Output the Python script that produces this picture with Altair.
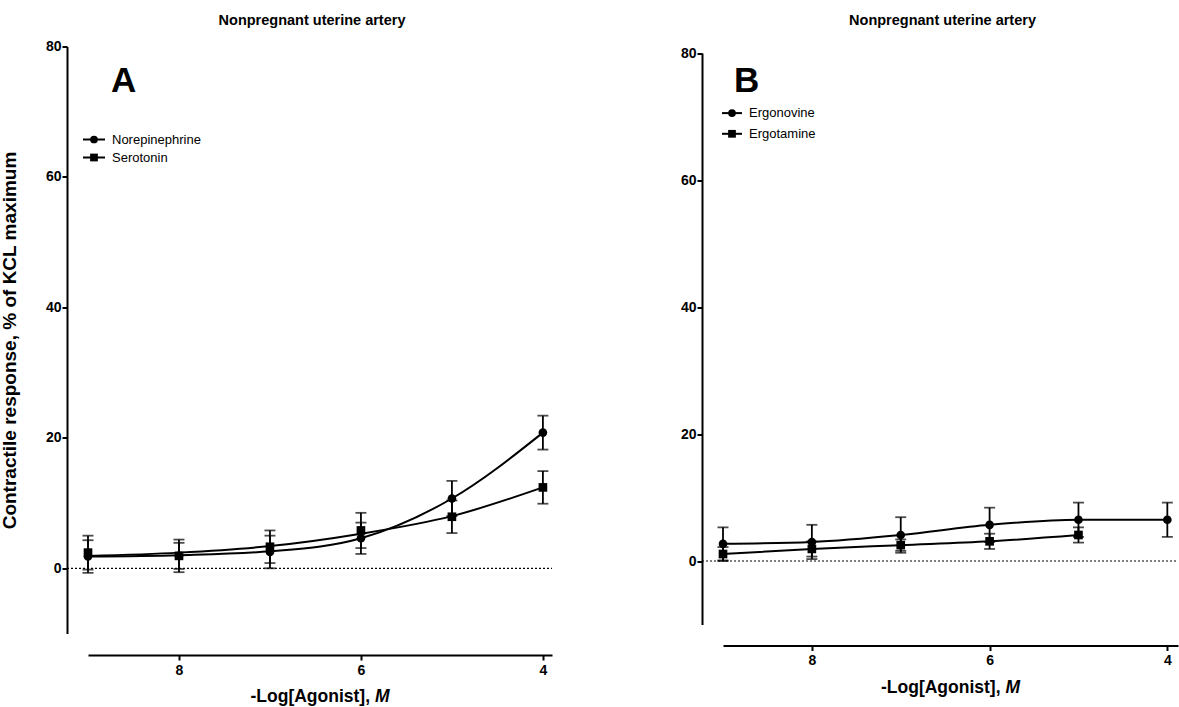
import altair as alt
import pandas as pd

FONT = "Liberation Sans"

# ---- Panel A data (-Log[Agonist], M) ----
x_a = [9, 8, 7, 6, 5, 4]
ne_mean = [1.8, 1.9, 2.5, 4.6, 10.7, 20.8]
ne_sem = [2.5, 2.5, 2.5, 2.4, 2.7, 2.6]
ne_fit = [1.8, 2.0, 2.6, 4.6, 10.7, 20.8]
ser_mean = [2.4, 1.9, 3.3, 5.8, 7.9, 12.4]
ser_sem = [2.6, 2.0, 2.5, 2.7, 2.5, 2.5]
ser_fit = [1.9, 2.4, 3.4, 5.3, 8.0, 12.4]

# ---- Panel B data ----
x_b1 = [9, 8, 7, 6, 5, 4]
ergonovine_mean = [2.7, 3.0, 4.1, 5.7, 6.5, 6.5]
ergonovine_sem = [2.6, 2.7, 2.8, 2.7, 2.7, 2.7]
x_b2 = [9, 8, 7, 6, 5]
ergotamine_mean = [1.1, 1.9, 2.5, 3.1, 4.1]
ergotamine_sem = [1.1, 1.2, 0.9, 1.2, 1.2]

y_ticks = [0, 20, 40, 60, 80]
x_ticks = [8, 6, 4]


def frame(series):
    rows = []
    for name, xs, m, s, f in series:
        for xi, mi, si, fi in zip(xs, m, s, f):
            rows.append({"series": name, "x": xi, "mean": mi,
                         "lo": mi - si, "hi": mi + si, "fit": fi})
    return pd.DataFrame(rows)


def panel(df, names, width, height, top, x_min, letter, letter_pos, legend_pos,
          y_title, x_offset, title_offset):
    xs = alt.Scale(domain=[x_min, 9], reverse=True, nice=False, zero=False)
    ys = alt.Scale(domain=[-10, 80], nice=False, zero=False, range=[height, top])
    X = alt.X("x:Q", scale=xs,
              axis=alt.Axis(values=x_ticks, title="", offset=x_offset, labelPadding=3))
    Y = alt.Y("mean:Q", scale=ys,
              axis=alt.Axis(values=y_ticks, offset=21, titleFontSize=19, titlePadding=26,
                            labelPadding=1, title=y_title))
    shape = alt.Shape("series:N", scale=alt.Scale(domain=names, range=["circle", "square"]),
                      legend=None)
    base = alt.Chart(df)

    zero = alt.Chart(pd.DataFrame({"z": [0]})).mark_rule(
        color="black", strokeWidth=1.2, strokeDash=[2, 2]
    ).encode(y=alt.Y("z:Q", scale=ys), x=alt.value(-21), x2=alt.value(width))

    lines = base.mark_line(interpolate="monotone", color="black", strokeWidth=2).encode(
        x=X, y=alt.Y("fit:Q", scale=ys), detail="series:N")
    err = base.mark_rule(color="black", strokeWidth=1.8).encode(
        x=X, y=alt.Y("lo:Q", scale=ys), y2="hi:Q")
    cap_hi = base.mark_tick(color="black", thickness=1.8, size=11, orient="horizontal").encode(
        x=X, y=alt.Y("hi:Q", scale=ys))
    cap_lo = base.mark_tick(color="black", thickness=1.8, size=11, orient="horizontal").encode(
        x=X, y=alt.Y("lo:Q", scale=ys))
    pts = base.mark_point(filled=True, size=75, color="black", opacity=1).encode(
        x=X, y=Y, shape=shape)

    layers = [zero, lines, err, cap_hi, cap_lo, pts]

    # x-axis title with italic M
    ty = height + x_offset + 47
    cx = width / 2
    layers.append(alt.Chart(pd.DataFrame({"t": ["-Log[Agonist],"]})).mark_text(
        fontSize=17.5, fontWeight="bold", font=FONT, align="left", baseline="alphabetic",
        color="black").encode(text="t:N", x=alt.value(cx - 69.5), y=alt.value(ty)))
    layers.append(alt.Chart(pd.DataFrame({"t": ["M"]})).mark_text(
        fontSize=17.5, fontWeight="bold", fontStyle="italic", font=FONT, align="left",
        baseline="alphabetic", color="black").encode(
        text="t:N", x=alt.value(cx + 55), y=alt.value(ty)))

    # panel letter
    layers.append(alt.Chart(pd.DataFrame({"t": [letter]})).mark_text(
        fontSize=35, fontWeight="bold", font=FONT, align="left", baseline="alphabetic",
        color="black").encode(text="t:N", x=alt.value(letter_pos[0]), y=alt.value(letter_pos[1])))

    # legend
    lx0, lx1, tx, y0, dy = legend_pos
    for i, (nm, shp) in enumerate(zip(names, ["circle", "square"])):
        yy = y0 + i * dy
        d = pd.DataFrame({"label": [nm]})
        layers.append(alt.Chart(d).mark_rule(color="black", strokeWidth=2).encode(
            x=alt.value(lx0), x2=alt.value(lx1), y=alt.value(yy)))
        layers.append(alt.Chart(d).mark_point(filled=True, size=60, color="black", opacity=1,
                                              shape=shp).encode(
            x=alt.value((lx0 + lx1) / 2), y=alt.value(yy)))
        layers.append(alt.Chart(d).mark_text(fontSize=13, font=FONT, align="left",
                                             baseline="middle", color="black").encode(
            text="label:N", x=alt.value(tx), y=alt.value(yy)))

    return alt.layer(*layers).properties(
        width=width, height=height,
        title=alt.Title("Nonpregnant uterine artery", fontSize=14.5, fontWeight="bold",
                        font=FONT, color="black", offset=title_offset, dx=-8))


df_a = frame([("Norepinephrine", x_a, ne_mean, ne_sem, ne_fit),
              ("Serotonin", x_a, ser_mean, ser_sem, ser_fit)])
df_b = frame([("Ergonovine", x_b1, ergonovine_mean, ergonovine_sem, ergonovine_mean),
              ("Ergotamine", x_b2, ergotamine_mean, ergotamine_sem, ergotamine_mean)])

chart_a = panel(df_a, ["Norepinephrine", "Serotonin"], 464, 587, 0, 3.9, "A", (23, 45),
                (-5, 17, 24, 93, 18), "Contractile response, % of KCL maximum", 21.5, 11)
chart_b = panel(df_b, ["Ergonovine", "Ergotamine"], 455, 578, 6.6, 3.88, "B", (11, 45.3),
                (-1, 19, 26, 66.6, 20.7), "", 21, 17.6)

chart = alt.hconcat(chart_a, chart_b, spacing=127).properties(
    padding={"left": 0, "top": 12.5, "right": 0, "bottom": 0}, background="white"
).configure_view(stroke=None).configure_axis(
    domainColor="black", domainWidth=2, tickColor="black", tickWidth=2, tickSize=5,
    labelColor="black", labelFont=FONT, labelFontSize=14, labelFontWeight="bold",
    titleColor="black", titleFont=FONT, titleFontWeight="bold", grid=False
)

chart.save("out.html", embed_options={"renderer": "svg", "actions": False})
